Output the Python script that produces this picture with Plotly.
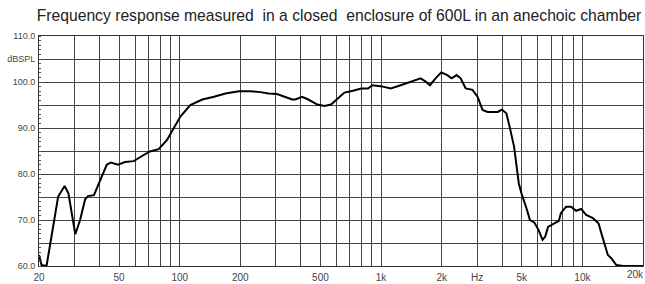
import numpy as np
import plotly.graph_objects as go

# Frequency (Hz) and level (dB SPL)
freq = [20, 20.6, 21.8, 23.1, 24.9, 26.8, 28.0, 30.3, 32.0, 33.9, 35.0, 37.5, 40.3, 43.4,
        45.5, 49.4, 53.5, 59.1, 64.4, 71.1, 78.6, 86.5, 89.3, 100.8, 112.8, 129.5, 148,
        168.6, 196.8, 225.5, 251.6, 276, 304, 334, 362, 375, 405, 430, 483, 523, 564,
        598, 658, 725, 797, 862, 904, 996, 1117, 1252, 1403, 1572, 1665, 1748, 1865,
        1991, 2133, 2240, 2373, 2485, 2632, 2844, 3014, 3193, 3383, 3800, 3980, 4190,
        4350, 4580, 4830, 4980, 5280, 5490, 5780, 6060, 6340, 6540, 6750, 7200, 7640,
        7820, 8300, 8790, 9300, 9860, 10440, 11280, 12020, 12640, 13380, 13910, 14740,
        16000, 18000, 20000]
level = [62.4, 60.2, 60.0, 66.4, 75.1, 77.4, 75.8, 66.9, 70.0, 74.5, 75.2, 75.4, 78.7, 82.0,
         82.5, 82.0, 82.6, 82.8, 83.8, 84.9, 85.4, 87.4, 88.5, 92.5, 95.0, 96.2, 96.8,
         97.5, 98.0, 98.0, 97.8, 97.5, 97.4, 96.8, 96.2, 96.2, 96.8, 96.3, 95.1, 94.8, 95.1,
         96.1, 97.7, 98.1, 98.6, 98.6, 99.3, 99.1, 98.6, 99.3, 100.1, 100.8, 100.1, 99.3, 100.8,
         102.1, 101.5, 100.8, 101.5, 100.8, 98.6, 98.3, 96.8, 93.9, 93.5, 93.5, 94.0, 93.2,
         90.3, 85.9, 78.0, 75.8, 72.5, 70.0, 69.4, 67.8, 65.7, 66.4, 68.5, 69.1, 69.8,
         71.5, 72.9, 72.9, 72.0, 72.4, 71.1, 70.4, 69.3, 66.0, 62.4, 61.7, 60.2,
         60.0, 60.0, 60.0]

x_tick_vals = [20, 50, 100, 200, 500, 1000, 2000, 3000, 5000, 10000]
x_tick_text = ["20", "50", "100", "200", "500", "1k", "2k", "Hz", "5k", "10k"]
x_last_tick = 20000
x_last_text = "20k"
x_grid_vals = [30, 40, 60, 70, 80, 90, 300, 400, 600, 700, 800, 900,
               4000, 6000, 7000, 8000, 9000]
y_tick_vals = [60, 65, 70, 75, 80, 85, 90, 95, 100, 105, 110]
y_tick_text = ["60.0", "", "70.0", "", "80.0", "", "90.0", "", "100.0", "dBSPL", "110.0"]

title = "Frequency response measured  in a closed  enclosure of 600L in an anechoic chamber"

fig = go.Figure()
fig.add_trace(go.Scatter(x=freq, y=level, mode="lines",
                         line=dict(color="black", width=2), showlegend=False,
                         cliponaxis=True))

# last x label sits at the right edge, nudged inward so it stays readable
fig.add_annotation(x=np.log10(x_last_tick), xref="x", y=0, yref="paper",
                   text=x_last_text, showarrow=False, xanchor="center", yanchor="top",
                   xshift=-8, yshift=-1, font=dict(size=10, color="#444"))

grid_col = "#444444"
fig.update_layout(
    width=645, height=284,
    margin=dict(l=39, r=2, t=36, b=18),
    paper_bgcolor="white", plot_bgcolor="white",
    font=dict(family="Liberation Sans, Arial, sans-serif", color="#333", size=10),
    title=dict(text=title, x=339/645, xanchor="center", y=1 - 16/284, yanchor="middle",
               font=dict(size=15.7, color="#222")),
    xaxis=dict(type="log", range=[np.log10(20), np.log10(20000)],
               tickmode="array", tickvals=x_tick_vals, ticktext=x_tick_text,
               showgrid=True, gridcolor=grid_col, gridwidth=1,
               ticks="", showline=True, linecolor="#333", linewidth=1, mirror=True,
               tickfont=dict(size=10, color="#444"), zeroline=False,
               ticklabelstandoff=2,
               minor=dict(tickmode="array", tickvals=x_grid_vals, showgrid=True,
                          gridcolor=grid_col, gridwidth=1, ticks="")),
    yaxis=dict(range=[60, 110], tickmode="array", tickvals=y_tick_vals,
               ticktext=y_tick_text, showgrid=True, gridcolor=grid_col, gridwidth=1,
               ticks="", showline=True, linecolor="#333", linewidth=1, mirror=True,
               tickfont=dict(size=9, color="#444"), zeroline=False, ticklabelstandoff=1,
               minor=dict(dtick=1, ticks="inside", ticklen=2, tickcolor="#555",
                          showgrid=False)),
)

fig.write_html("out.html", config={"displayModeBar": False},
               post_script="document.body.style.margin='0';document.body.style.padding='0';")
